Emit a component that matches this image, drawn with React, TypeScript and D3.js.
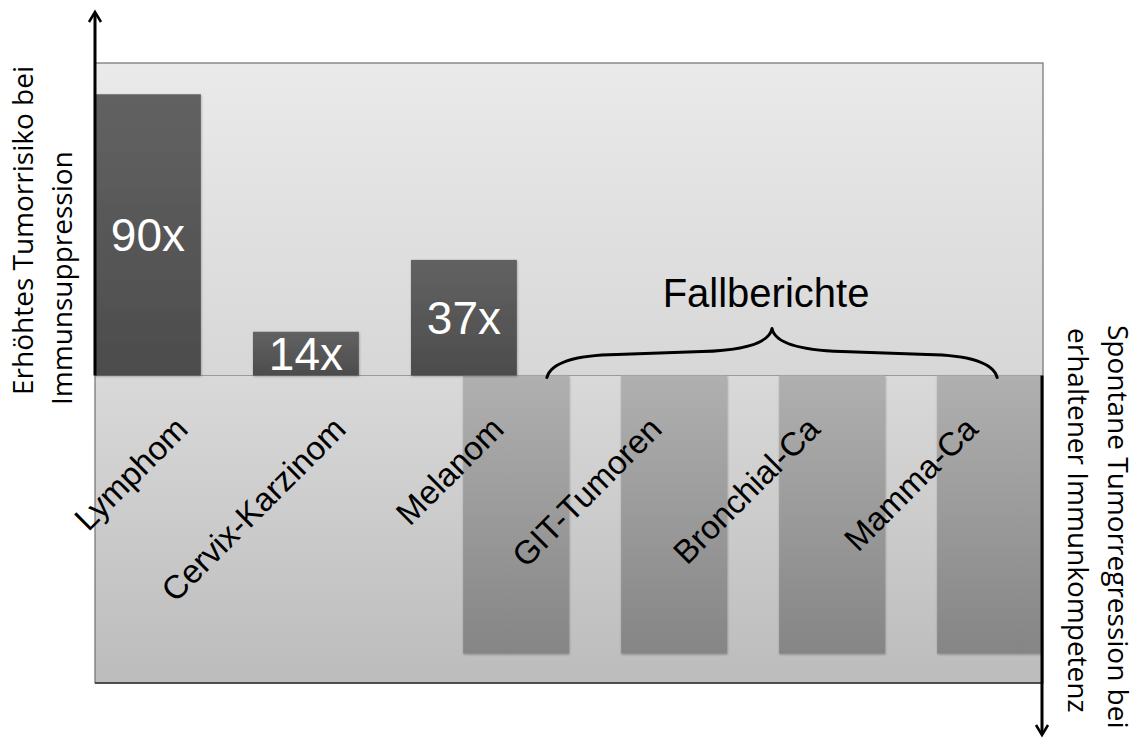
import React from 'react'
import * as d3 from 'd3'

// categories on the x axis (one slot each)
const categories = ['Lymphom', 'Cervix-Karzinom', 'Melanom', 'GIT-Tumoren', 'Bronchial-Ca', 'Mamma-Ca']

// upward bars: increased tumour risk under immunosuppression (fold)
const riskValues = [90, 14, 37]
const riskLabels = ['90x', '14x', '37x']

// downward bars: case reports of spontaneous regression (no number, same depth)
const caseReportValues = [89, 89, 89, 89]

const titleUp = ['Erhöhtes Tumorrisiko bei', 'Immunsuppression']
const titleDown = ['Spontane Tumorregression bei', 'erhaltener Immunkompetenz']
const braceLabel = 'Fallberichte'

const W = 1138
const H = 738
const sans = '"Liberation Sans", Arial, sans-serif'
const titleFont = '"Open Sans", sans-serif'

export default function App() {
    const x = d3.scaleLinear().domain([0, categories.length]).range([95, 1043])
    const y = d3.scaleLinear().domain([-98.4, 100]).range([683, 63])

    const barW = 0.67 // in slots
    const caseOffset = 2.33 // first case report bar starts here
    const y0 = y(0)

    const panelL = x(0)
    const panelR = x(categories.length)

    // curly brace over the case report bars
    const bL = x(2.86), bR = x(5.71), bM = (bL + bR) / 2
    const brace = `M${bL},${y0 + 2} Q${bL + 6},${y0 - 20} ${bL + 70},${y0 - 21}
        L${bM - 70},${y0 - 24} Q${bM - 4},${y0 - 26} ${bM},${y0 - 47}
        Q${bM + 4},${y0 - 26} ${bM + 70},${y0 - 24}
        L${bR - 70},${y0 - 21} Q${bR - 6},${y0 - 20} ${bR},${y0 + 2}`

    return (
        <svg width={W} height={H} style={{ position: 'absolute', left: 0, top: 0, display: 'block', background: '#fff' }}>
            <defs>
                <linearGradient id="bgUp" x1="0" y1="0" x2="0" y2="1">
                    <stop offset="0" stopColor="#eaeaea" />
                    <stop offset="1" stopColor="#d7d7d7" />
                </linearGradient>
                <linearGradient id="bgDown" x1="0" y1="0" x2="0" y2="1">
                    <stop offset="0" stopColor="#d9d9d9" />
                    <stop offset="1" stopColor="#bcbcbc" />
                </linearGradient>
                <linearGradient id="barUp" x1="0" y1="0" x2="0" y2="1">
                    <stop offset="0" stopColor="#626262" />
                    <stop offset="1" stopColor="#4c4c4c" />
                </linearGradient>
                <linearGradient id="barDown" x1="0" y1="0" x2="0" y2="1">
                    <stop offset="0" stopColor="#b0b0b0" />
                    <stop offset="1" stopColor="#858585" />
                </linearGradient>
                <filter id="shadow" x="-10%" y="-10%" width="120%" height="120%">
                    <feDropShadow dx="0.5" dy="1" stdDeviation="1.2" floodColor="#000" floodOpacity="0.3" />
                </filter>
                <clipPath id="panelClip">
                    <rect x={panelL} y={y(100)} width={panelR - panelL} height={y(-98.4) - y(100)} />
                </clipPath>
            </defs>

            {/* plot panel */}
            <rect x={panelL} y={y(100)} width={panelR - panelL} height={y0 - y(100)} fill="url(#bgUp)" />
            <rect x={panelL} y={y0} width={panelR - panelL} height={y(-98.4) - y0} fill="url(#bgDown)" />
            <rect x={panelL} y={y(100)} width={panelR - panelL} height={y(-98.4) - y(100)}
                fill="none" stroke="#707070" strokeWidth={1.2} />
            <line x1={panelL} x2={panelR} y1={y(-98.4)} y2={y(-98.4)} stroke="#333" strokeWidth={1.6} />
            <line x1={panelL} x2={panelR} y1={y0} y2={y0} stroke="#9a9a9a" strokeWidth={1} />

            {/* case report bars (downward) */}
            <g clipPath="url(#panelClip)">
                {caseReportValues.map((v, i) => (
                    <rect key={i} x={x(caseOffset + i)} y={y0} width={x(barW) - x(0)} height={y(-v) - y0}
                        fill="url(#barDown)" filter="url(#shadow)" />
                ))}
            </g>

            {/* risk bars (upward) */}
            {riskValues.map((v, i) => (
                <rect key={i} x={x(i)} y={y(v)} width={x(barW) - x(0)} height={y0 - y(v)}
                    fill="url(#barUp)" filter="url(#shadow)" />
            ))}
            {riskValues.map((v, i) => (
                <text key={i} x={x(i + barW / 2)} y={(y(v) + y0) / 2 + 16.5} textAnchor="middle"
                    fontFamily={sans} fontSize={46} fill="#fff">{riskLabels[i]}</text>
            ))}

            {/* category labels */}
            {categories.map((c, i) => {
                const lx = x(i + 0.6)
                const ly = 431
                return (
                    <text key={c} x={lx} y={ly} transform={`rotate(-45, ${lx}, ${ly})`} textAnchor="end"
                        fontFamily={sans} fontSize={33} fill="#000">{c}</text>
                )
            })}

            {/* brace + label */}
            <path d={brace} fill="none" stroke="#000" strokeWidth={3} strokeLinecap="round" strokeLinejoin="round" />
            <text x={bM - 6} y={307} textAnchor="middle" fontFamily={sans} fontSize={40} fill="#000">{braceLabel}</text>

            {/* axis arrows */}
            <line x1={panelL} x2={panelL} y1={y0} y2={13} stroke="#000" strokeWidth={3} />
            <path d={`M${panelL - 6},${22} L${panelL},${12} L${panelL + 6},${22}`} fill="none" stroke="#000" strokeWidth={2.5} />
            <line x1={panelR - 1} x2={panelR - 1} y1={y0} y2={734} stroke="#000" strokeWidth={3} />
            <path d={`M${panelR - 7},${725} L${panelR - 1},${735} L${panelR + 5},${725}`} fill="none" stroke="#000" strokeWidth={2.5} />

            {/* axis titles */}
            <text transform={`translate(33, 395) rotate(-90)`} fontFamily={titleFont} fontSize={28} fill="#000">{titleUp[0]}</text>
            <text transform={`translate(72, 405) rotate(-90)`} fontFamily={titleFont} fontSize={28} fill="#000">{titleUp[1]}</text>
            <text transform={`translate(1108, 325) rotate(90)`} fontFamily={titleFont} fontSize={28} fill="#000">{titleDown[0]}</text>
            <text transform={`translate(1068, 328) rotate(90)`} fontFamily={titleFont} fontSize={28} fill="#000">{titleDown[1]}</text>
        </svg>
    )
}
